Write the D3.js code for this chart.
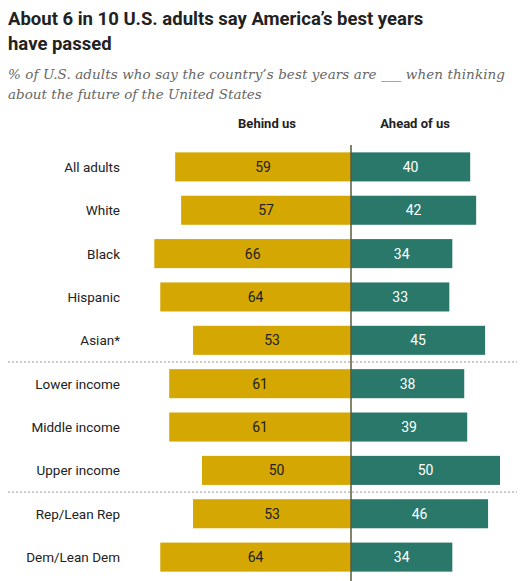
<!DOCTYPE html><html><head><meta charset="utf-8">
<script src="https://cdn.jsdelivr.net/npm/d3@7"></script>
<style>body{margin:0;background:#fff}</style></head><body>
<svg id="c" width="527" height="581"></svg>
<script>
const categories=["All adults","White","Black","Hispanic","Asian*","Lower income","Middle income","Upper income","Rep/Lean Rep","Dem/Lean Dem"];
const behind=[59,57,66,64,53,61,61,50,53,64];
const ahead=[40,42,34,33,45,38,39,50,46,34];
const separatorsAfter=[4,7];
const svg=d3.select("#c");
const cx=351;
const x=d3.scaleLinear().domain([0,100]).range([0,298]);
const y=d3.scaleBand().domain(categories).range([145,579]).paddingInner(0.33).paddingOuter(0.17);
svg.append("text").attr("x",8).attr("y",25).attr("font-family","Roboto,Arial,sans-serif").attr("font-weight","bold").attr("font-size",18.5).attr("fill","#222").text("About 6 in 10 U.S. adults say America’s best years");
svg.append("text").attr("x",8).attr("y",50).attr("font-family","Roboto,Arial,sans-serif").attr("font-weight","bold").attr("font-size",18.5).attr("fill","#222").text("have passed");
svg.append("text").attr("x",8).attr("y",79).attr("font-family","Georgia,'DejaVu Serif',serif").attr("font-style","italic").attr("font-size",13.5).attr("textLength",497).attr("fill","#666").text("% of U.S. adults who say the country’s best years are ___ when thinking");
svg.append("text").attr("x",8).attr("y",99).attr("font-family","Georgia,'DejaVu Serif',serif").attr("font-style","italic").attr("font-size",13.5).attr("fill","#666").text("about the future of the United States");
const f="Roboto,Arial,sans-serif";
svg.append("text").attr("x",267).attr("y",128).attr("text-anchor","middle").attr("font-family",f).attr("font-weight","bold").attr("font-size",13).attr("fill","#222").text("Behind us");
svg.append("text").attr("x",415).attr("y",128).attr("text-anchor","middle").attr("font-family",f).attr("font-weight","bold").attr("font-size",13).attr("fill","#222").text("Ahead of us");
const bw=y.bandwidth();
categories.forEach((c,i)=>{
  const yy=y(c);
  svg.append("rect").attr("x",cx-x(behind[i])).attr("y",yy).attr("width",x(behind[i])).attr("height",bw).attr("fill","#d5a702");
  svg.append("rect").attr("x",cx).attr("y",yy).attr("width",x(ahead[i])).attr("height",bw).attr("fill","#29786a");
  svg.append("text").attr("x",cx-x(behind[i])/2).attr("y",yy+bw/2+5).attr("text-anchor","middle").attr("font-family",f).attr("font-size",14).attr("fill","#222").text(behind[i]);
  svg.append("text").attr("x",cx+x(ahead[i])/2).attr("y",yy+bw/2+5).attr("text-anchor","middle").attr("font-family",f).attr("font-size",14).attr("fill","#fff").text(ahead[i]);
  svg.append("text").attr("x",120).attr("y",yy+bw/2+5).attr("text-anchor","end").attr("font-family",f).attr("font-size",13.5).attr("fill","#222").text(c);
});
separatorsAfter.forEach(i=>{
  const yy=(y(categories[i])+bw+y(categories[i+1]))/2;
  svg.append("line").attr("x1",8).attr("x2",517).attr("y1",yy).attr("y2",yy).attr("stroke","#999").attr("stroke-dasharray","2,2");
});
svg.append("line").attr("x1",cx).attr("x2",cx).attr("y1",145).attr("y2",581).attr("stroke","#5b5a3a").attr("stroke-width",1.5);
</script></body></html>
